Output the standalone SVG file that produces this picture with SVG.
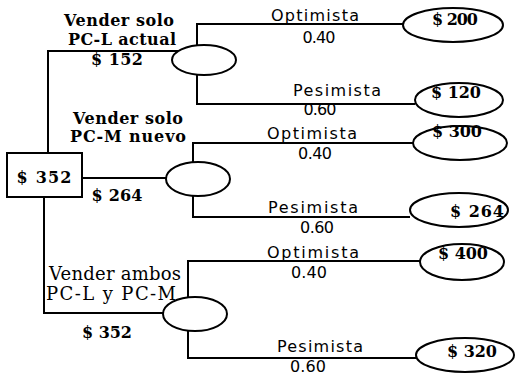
<svg xmlns="http://www.w3.org/2000/svg" width="516" height="377" viewBox="0 0 516 377">
<style>
.ln{fill:none;stroke:#000;stroke-width:2}
.nd{fill:#fff;stroke:#000;stroke-width:2}
.t{font-family:"DejaVu Serif","Liberation Serif",serif;font-size:16px;fill:#000;text-anchor:middle}
.b{font-weight:bold}
.r{font-size:18px}
.s{font-family:"DejaVu Sans","Liberation Sans",sans-serif;font-size:16px;fill:#000;text-anchor:middle}
</style>
<rect width="516" height="377" fill="#fff"/>
<g id="connectors">
<path class="ln" d="M178 51 H48 V153"/>
<path class="ln" d="M82 178 H167"/>
<path class="ln" d="M44 197 V313 H163"/>
<path class="ln" d="M197 45 V24 H403"/>
<path class="ln" d="M197 75 V104 H415"/>
<path class="ln" d="M193 162 V143 H413"/>
<path class="ln" d="M193 196 V217 H410"/>
<path class="ln" d="M188 297 V261 H420"/>
<path class="ln" d="M188 331 V358 H416"/>
</g>
<g id="root">
<rect class="nd" x="7" y="153" width="75" height="44"/>
<text class="t b" x="44" y="183" textLength="55">$ 352</text>
</g>
<g id="chance1"><ellipse class="nd" cx="204" cy="60" rx="32" ry="15"/></g>
<g id="chance2"><ellipse class="nd" cx="198" cy="179" rx="32" ry="17"/></g>
<g id="chance3"><ellipse class="nd" cx="195" cy="314" rx="32" ry="17"/></g>
<g id="end200"><ellipse class="nd" cx="453" cy="25" rx="50" ry="17"/><text class="t b" x="455" y="25" textLength="46">$ 200</text></g>
<g id="end120"><ellipse class="nd" cx="459" cy="100" rx="44" ry="17"/><text class="t b" x="456" y="98" textLength="50">$ 120</text></g>
<g id="end300"><ellipse class="nd" cx="460" cy="143" rx="47" ry="17"/><text class="t b" x="457" y="137" textLength="50">$ 300</text></g>
<g id="end264"><ellipse class="nd" cx="459" cy="210" rx="49" ry="17"/><text class="t b" x="477" y="217" textLength="54">$ 264</text></g>
<g id="end400"><ellipse class="nd" cx="462" cy="262" rx="42" ry="18"/><text class="t b" x="463" y="259" textLength="50">$ 400</text></g>
<g id="end320"><ellipse class="nd" cx="465" cy="355" rx="49" ry="17"/><text class="t b" x="472" y="357" textLength="50">$ 320</text></g>
<g id="labels">
<text class="t b" x="119" y="26" textLength="110">Vender solo</text>
<text class="t b" x="122" y="45" textLength="108">PC-L actual</text>
<text class="t b" x="117" y="65" textLength="52">$ 152</text>
<text class="t b" x="128" y="124" textLength="110">Vender solo</text>
<text class="t b" x="128" y="142" textLength="116">PC-M nuevo</text>
<text class="t b" x="117" y="201" textLength="51">$ 264</text>
<text class="t r" x="115" y="280" textLength="132">Vender ambos</text>
<text class="t r" x="111" y="300" textLength="130">PC-L y PC-M</text>
<text class="t b" x="107" y="338" textLength="50">$ 352</text>
<text class="s" x="315" y="21" textLength="88">Optimista</text>
<text class="s" x="319" y="43" textLength="33">0.40</text>
<text class="s" x="337" y="96" textLength="88">Pesimista</text>
<text class="s" x="320" y="115" textLength="33">0.60</text>
<text class="s" x="312" y="139" textLength="90">Optimista</text>
<text class="s" x="315" y="159" textLength="34">0.40</text>
<text class="s" x="313" y="213" textLength="90">Pesimista</text>
<text class="s" x="317" y="233" textLength="34">0.60</text>
<text class="s" x="313" y="258" textLength="92">Optimista</text>
<text class="s" x="309" y="278" textLength="36">0.40</text>
<text class="s" x="320" y="352" textLength="86">Pesimista</text>
<text class="s" x="308" y="372" textLength="36">0.60</text>
</g>
</svg>
